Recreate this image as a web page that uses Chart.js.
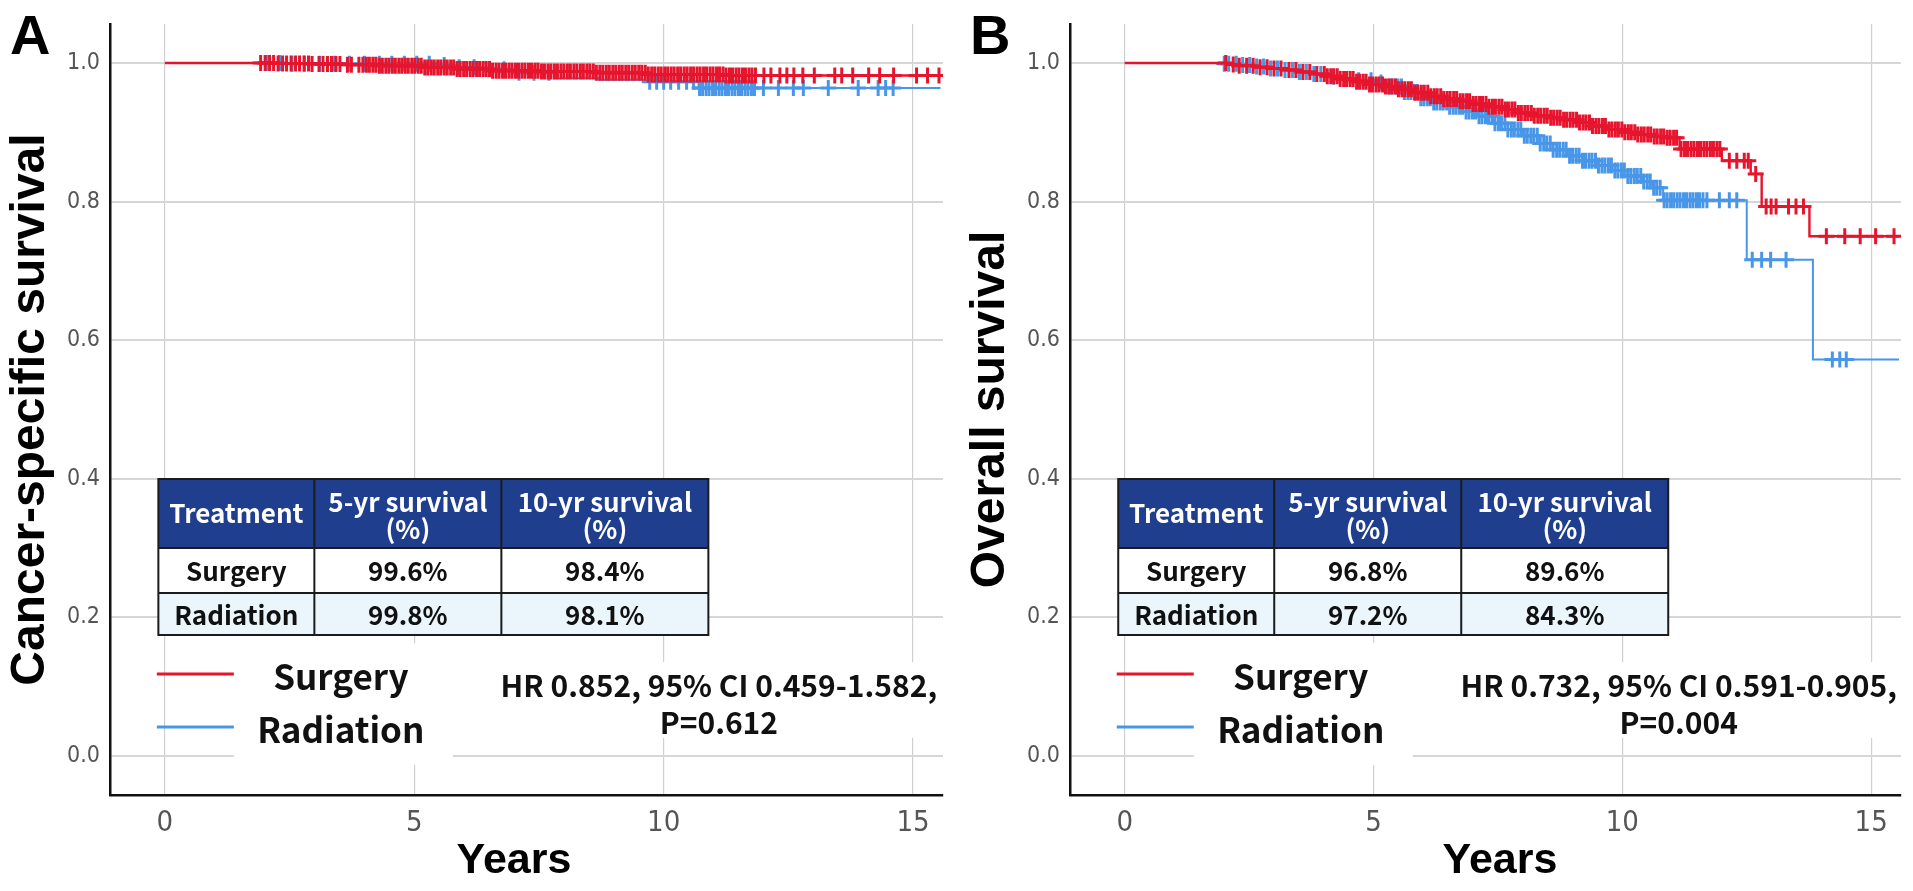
<!DOCTYPE html>
<html><head><meta charset="utf-8">
<script src="https://cdn.jsdelivr.net/npm/chart.js@4.4.1/dist/chart.umd.min.js"></script>
<style>
html,body{margin:0;padding:0;background:#fff;width:1913px;height:891px;overflow:hidden}
#wa{position:absolute;left:0;top:0;width:960px;height:891px}
#wb{position:absolute;left:960px;top:0;width:953px;height:891px}
</style></head><body>
<div id="wa"><canvas id="ca" width="960" height="891"></canvas></div>
<div id="wb"><canvas id="cb" width="953" height="891"></canvas></div>
<script>
// ---------------- DATA ----------------
const seriesNames = ['Surgery', 'Radiation'];
const xTicks = [0, 5, 10, 15];
const xTickLabels = ['0', '5', '10', '15'];
const yTicks = [0, 0.2, 0.4, 0.6, 0.8, 1.0];
const yTickLabels = ['0.0', '0.2', '0.4', '0.6', '0.8', '1.0'];
const tableHeader = ['Treatment', '5-yr survival\n(%)', '10-yr survival\n(%)'];

// Panel A: cancer-specific survival
const csSurgeryTime = [0, 2.2, 2.9, 3.6, 4.3, 5.2, 5.8, 6.55, 7.5, 8.65, 9.65, 11.2, 15.55];
const csSurgerySurv = [1, 0.9993, 0.9985, 0.9975, 0.9962, 0.9935, 0.9915, 0.989, 0.9878, 0.986, 0.9835, 0.982, 0.982];
const csRadiationTime = [0, 2.4, 5.35, 5.9, 6.5, 7.1, 7.8, 8.7, 9.6, 10.7, 15.55];
const csRadiationSurv = [1, 0.999, 0.997, 0.994, 0.991, 0.986, 0.978, 0.976, 0.973, 0.964, 0.964];
const csSurgeryCensor = [1.92,2.01,2.1,2.18,2.27,2.36,2.44,2.53,2.62,2.7,2.79,2.88,2.95,3.09,3.17,3.26,3.34,3.43,3.51,3.66,3.74,3.89,3.97,
 4.04,4.1,4.17,4.23,4.3,4.36,4.43,4.49,4.56,4.62,4.69,4.75,4.82,4.88,4.95,5.01,5.08,5.14,5.21,5.27,5.34,5.4,5.47,5.53,5.6,5.66,5.73,5.79,5.86,5.92,5.99,
 6.05,6.12,6.18,6.25,6.31,6.38,6.44,6.51,6.57,6.64,6.7,6.77,6.83,6.9,6.96,7.03,7.09,7.16,7.22,7.29,7.35,7.42,7.48,7.55,7.61,7.68,7.74,7.81,7.87,7.94,
 8.0,8.07,8.13,8.2,8.26,8.33,8.39,8.46,8.52,8.59,8.65,8.72,8.78,8.85,8.91,8.98,9.04,9.11,9.17,9.24,9.3,9.37,9.43,9.5,9.56,9.63,9.69,9.76,9.82,9.89,9.95,
 10.02,10.08,10.15,10.21,10.28,10.34,10.41,10.47,10.54,10.6,10.67,10.73,10.8,10.86,10.93,10.99,11.06,11.12,11.19,11.25,11.32,11.38,11.45,11.51,11.58,11.64,11.71,11.77,
 11.84,12.01,12.15,12.33,12.47,12.61,12.79,13.02,13.43,13.57,13.79,14.11,14.33,14.61,15.07,15.29,15.52];
const csRadiationCensor = [2.05,2.3,2.55,2.8,3.1,3.4,3.7,4.0,4.3,4.55,4.8,5.05,5.3,5.6,5.9,6.2,6.5,6.8,7.1,7.4,7.7,
 9.72,9.86,10.0,10.14,10.3,10.46,10.6,
 10.72,10.78,10.85,10.91,10.98,11.04,11.11,11.17,11.24,11.3,11.37,11.43,11.5,11.56,11.63,11.69,11.76,11.82,
 12.0,12.3,12.6,12.8,13.3,13.9,14.3,14.45,14.6];
const csTableRows = [['Surgery', '99.6%', '98.4%'], ['Radiation', '99.8%', '98.1%']];
const csStats = ['HR 0.852, 95% CI 0.459-1.582,', 'P=0.612'];

// Panel B: overall survival
const osSurgeryTime = [0,2.05,2.3,2.6,2.9,3.2,3.5,3.8,4.05,4.3,4.6,4.9,5.2,5.5,5.8,6.1,6.4,6.7,7.0,7.3,7.6,7.9,8.2,8.5,8.8,9.1,9.4,9.7,10.0,10.3,10.6,10.9,11.15,12.0,12.58,12.8,13.76,15.56];
const osSurgerySurv = [1,0.998,0.996,0.994,0.992,0.990,0.987,0.984,0.981,0.977,0.973,0.969,0.966,0.962,0.957,0.952,0.948,0.945,0.941,0.937,0.933,0.928,0.924,0.921,0.918,0.914,0.909,0.904,0.900,0.897,0.894,0.892,0.876,0.859,0.840,0.793,0.750,0.750];
const osRadiationTime = [0,2.0,2.3,2.6,2.9,3.2,3.5,3.8,4.1,4.4,4.7,5.0,5.3,5.6,5.9,6.2,6.5,6.8,7.1,7.4,7.7,8.0,8.3,8.6,8.9,9.2,9.5,9.8,10.1,10.4,10.6,10.82,12.5,13.83,15.56];
const osRadiationSurv = [1,0.999,0.997,0.995,0.992,0.990,0.987,0.984,0.980,0.977,0.975,0.972,0.966,0.958,0.949,0.943,0.937,0.930,0.923,0.913,0.904,0.895,0.884,0.875,0.866,0.859,0.852,0.845,0.837,0.829,0.820,0.802,0.716,0.572,0.572];
const osSurgeryCensor = [2.03,2.18,2.3,2.45,2.58,2.72,2.86,3.0,3.14,3.3,3.44,3.58,3.72,3.86,
 4.01,4.07,4.14,4.2,4.27,4.33,4.4,4.46,4.53,4.59,4.66,4.72,4.79,4.85,4.92,4.98,5.05,5.11,5.18,5.24,5.31,5.37,5.44,5.5,5.57,5.63,5.7,5.76,5.83,5.89,5.96,
 6.02,6.09,6.15,6.22,6.28,6.35,6.41,6.48,6.54,6.61,6.67,6.74,6.8,6.87,6.93,7.0,7.06,7.13,7.19,7.26,7.32,7.39,7.45,7.52,7.58,7.65,7.71,7.78,7.84,7.91,7.97,
 8.04,8.1,8.17,8.23,8.3,8.36,8.43,8.49,8.56,8.62,8.69,8.75,8.82,8.88,8.95,9.01,9.08,9.14,9.21,9.27,9.34,9.4,9.47,9.53,9.6,9.66,9.73,9.79,9.86,9.92,9.99,
 10.05,10.12,10.18,10.25,10.31,10.38,10.44,10.51,10.57,10.64,10.7,10.77,10.83,10.9,10.96,11.03,11.09,
 11.18,11.25,11.31,11.38,11.44,11.51,11.57,11.64,11.7,11.77,11.83,11.9,11.96,
 12.15,12.3,12.45,12.53,12.68,12.89,12.99,13.09,13.34,13.49,13.64,14.1,14.47,14.78,15.09,15.46];
const osRadiationCensor = [2.0,2.09,2.24,2.37,2.51,2.65,2.79,2.93,3.07,3.22,3.37,3.51,3.65,3.8,3.94,4.2,4.45,4.7,4.95,5.15,
 5.3,5.36,5.43,5.49,5.56,5.62,5.69,5.75,5.82,5.88,5.95,6.01,6.08,6.14,6.21,6.27,6.34,6.4,6.47,6.53,6.6,6.66,6.73,6.79,6.86,6.92,6.99,
 7.05,7.12,7.18,7.25,7.31,7.38,7.44,7.51,7.57,7.64,7.7,7.77,7.83,7.9,7.96,8.03,8.09,8.16,8.22,8.29,8.35,8.42,8.48,8.55,8.61,8.68,8.74,8.81,8.87,8.94,
 9.0,9.07,9.13,9.2,9.26,9.33,9.39,9.46,9.52,9.59,9.65,9.72,9.78,9.85,9.91,9.98,10.04,10.11,10.17,10.24,10.3,10.37,10.43,10.5,10.56,10.63,10.69,10.76,
 10.84,10.9,10.97,11.03,11.1,11.16,11.23,11.29,11.36,11.42,11.49,11.55,11.62,11.7,11.95,12.15,12.3,12.61,12.8,12.98,13.29,14.22,14.37,14.5];
const osTableRows = [['Surgery', '96.8%', '89.6%'], ['Radiation', '97.2%', '84.3%']];
const osStats = ['HR 0.732, 95% CI 0.591-0.905,', 'P=0.004'];

// ---------------- STYLE / LAYOUT ----------------
const RED = '#e6142d', BLUE = '#4896e8';
const AF = '"Liberation Sans", Arial, Helvetica, sans-serif';
const NF = '"Liberation Sans Narrow", "Arial Narrow", "DejaVu Sans Condensed", "Liberation Sans", sans-serif';
const TF = '"Noto Sans CJK JP", "Noto Sans", sans-serif';
const L = {
  letter: {x: 10, y: 54},
  tableTop: 479, tableDx: -6.5, colW: [156, 187, 207], headH: 69, rowH: [45, 42],
  legLine: {dx0: -8, dx1: 69, y: [674, 727]},
  legText: {dx: 176, y: [677, 730]},
  legBox: {dx0: 69, dx1: 288, y0: 643, y1: 765},
  hr: {dx: 554, y: [686, 723], w: 446, y0: 662, y1: 738},
  xTitleY: 861
};

function kmAt(ts, ss, t) {
  let v = ss[0];
  for (let i = 0; i < ts.length; i++) { if (ts[i] <= t) v = ss[i]; else break; }
  return v;
}
function curve(ts, ss) { return ts.map((t, i) => ({x: t, y: ss[i]})); }
function marks(cs, ts, ss) { return cs.map(t => ({x: t, y: kmAt(ts, ss, t)})); }

const annotate = {
  id: 'annotate',
  beforeDatasetsDraw(chart, args, o) {
    const ctx = chart.ctx;
    const x0 = chart.scales.x.getPixelForValue(0);
    ctx.save();
    // white label boxes
    ctx.fillStyle = '#fff';
    ctx.fillRect(x0 + L.legBox.dx0, L.legBox.y0, L.legBox.dx1 - L.legBox.dx0, L.legBox.y1 - L.legBox.y0);
    const hx = x0 + L.hr.dx;
    ctx.fillRect(hx - L.hr.w / 2, L.hr.y0, L.hr.w, L.hr.y1 - L.hr.y0);
    // legend
    const cols = [RED, BLUE];
    seriesNames.forEach((n, i) => {
      ctx.strokeStyle = cols[i]; ctx.lineWidth = 3;
      ctx.beginPath(); ctx.moveTo(x0 + L.legLine.dx0, L.legLine.y[i]); ctx.lineTo(x0 + L.legLine.dx1, L.legLine.y[i]); ctx.stroke();
      ctx.fillStyle = '#111'; ctx.font = 'bold 35px ' + TF; ctx.textAlign = 'center'; ctx.textBaseline = 'middle';
      ctx.fillText(n, x0 + L.legText.dx, L.legText.y[i]);
    });
    // stats
    ctx.font = 'bold 30px ' + TF; ctx.fillStyle = '#111';
    o.stats.forEach((s, i) => ctx.fillText(s, hx, L.hr.y[i]));
    // table
    const tx = x0 + L.tableDx, ty = L.tableTop;
    const W = L.colW.reduce((a, b) => a + b, 0);
    const H = L.headH + L.rowH[0] + L.rowH[1];
    ctx.fillStyle = '#1f3e8e'; ctx.fillRect(tx, ty, W, L.headH);
    ctx.fillStyle = '#ffffff'; ctx.fillRect(tx, ty + L.headH, W, L.rowH[0]);
    ctx.fillStyle = '#eaf6fc'; ctx.fillRect(tx, ty + L.headH + L.rowH[0], W, L.rowH[1]);
    ctx.font = 'bold 26px ' + TF;
    let cx = tx;
    tableHeader.forEach((h, c) => {
      const mid = cx + L.colW[c] / 2;
      const lines = h.split('\n');
      ctx.fillStyle = '#ffffff';
      if (lines.length === 1) ctx.fillText(lines[0], mid, ty + L.headH / 2);
      else { ctx.fillText(lines[0], mid, ty + 23); ctx.fillText(lines[1], mid, ty + 50); }
      let ry = ty + L.headH;
      o.rows.forEach((r, k) => {
        ctx.fillStyle = '#111';
        ctx.fillText(r[c], mid, ry + L.rowH[k] / 2 + 1);
        ry += L.rowH[k];
      });
      cx += L.colW[c];
    });
    ctx.strokeStyle = '#1b1b1b'; ctx.lineWidth = 2;
    ctx.strokeRect(tx, ty, W, H);
    ctx.beginPath();
    ctx.moveTo(tx, ty + L.headH); ctx.lineTo(tx + W, ty + L.headH);
    ctx.moveTo(tx, ty + L.headH + L.rowH[0]); ctx.lineTo(tx + W, ty + L.headH + L.rowH[0]);
    ctx.moveTo(tx + L.colW[0], ty); ctx.lineTo(tx + L.colW[0], ty + H);
    ctx.moveTo(tx + L.colW[0] + L.colW[1], ty); ctx.lineTo(tx + L.colW[0] + L.colW[1], ty + H);
    ctx.stroke();
    ctx.restore();
  },
  afterDraw(chart, args, o) {
    const ctx = chart.ctx;
    ctx.save();
    ctx.fillStyle = '#000'; ctx.font = 'bold 56px ' + AF; ctx.textAlign = 'left'; ctx.textBaseline = 'alphabetic';
    ctx.fillText(o.letter, L.letter.x, L.letter.y);
    ctx.font = 'bold 43px ' + AF; ctx.textAlign = 'center'; ctx.textBaseline = 'middle';
    ctx.fillText(o.xTitle, o.xTitleX, L.xTitleY);
    ctx.restore();
  }
};

function makeChart(id, letter, yTitle, sT, sS, sC, rT, rS, rC, rows, stats, padRight, xTitleX) {
  return new Chart(document.getElementById(id), {
    type: 'line',
    data: {
      datasets: [
        {label: seriesNames[0] + ' censored', data: marks(sC, sT, sS), showLine: false, pointStyle: 'cross', pointRadius: 8, pointBorderWidth: 3, pointBorderColor: RED, borderColor: RED},
        {label: seriesNames[0], data: curve(sT, sS), stepped: 'before', borderColor: RED, borderWidth: 2.4, pointRadius: 0, fill: false},
        {label: seriesNames[1] + ' censored', data: marks(rC, rT, rS), showLine: false, pointStyle: 'cross', pointRadius: 8, pointBorderWidth: 3, pointBorderColor: BLUE, borderColor: BLUE},
        {label: seriesNames[1], data: curve(rT, rS), stepped: 'before', borderColor: BLUE, borderWidth: 2, pointRadius: 0, fill: false}
      ]
    },
    options: {
      responsive: false, animation: false, devicePixelRatio: 1, events: [],
      layout: {padding: {left: 0, top: 24, right: padRight, bottom: 0}},
      plugins: {legend: {display: false}, tooltip: {enabled: false},
        annotate: {letter: letter, rows: rows, stats: stats, xTitle: 'Years', xTitleX: xTitleX}},
      scales: {
        x: {
          type: 'linear', min: -1.1, max: 15.6,
          afterBuildTicks: s => { s.ticks = xTicks.map(v => ({value: v})); },
          afterFit: s => { s.height = 96; },
          grid: {color: '#cfcfcf', lineWidth: 1.2, drawTicks: false},
          border: {display: true, color: '#111', width: 2.5},
          ticks: {color: '#555', font: {family: NF, size: 29}, padding: 11, maxRotation: 0, autoSkip: false,
            callback: v => xTickLabels[xTicks.indexOf(v)]},
          title: {display: false}
        },
        y: {
          type: 'linear', min: -0.0563, max: 1.0563,
          afterBuildTicks: s => { s.ticks = yTicks.map(v => ({value: v})); },
          afterFit: s => { s.width = 110; },
          grid: {color: '#d6d6d6', lineWidth: 2, drawTicks: false},
          border: {display: true, color: '#111', width: 2.5},
          ticks: {color: '#555', font: {family: NF, size: 23}, padding: 10,
            callback: v => yTickLabels[yTicks.indexOf(v)]},
          title: {display: true, text: yTitle, color: '#000', font: {family: AF, size: 48, weight: 'bold', lineHeight: 1}, padding: {top: 7, bottom: 0}}
        }
      }
    },
    plugins: [annotate]
  });
}

makeChart('ca', 'A', 'Cancer-specific survival', csSurgeryTime, csSurgerySurv, csSurgeryCensor,
  csRadiationTime, csRadiationSurv, csRadiationCensor, csTableRows, csStats, 17, 514);
makeChart('cb', 'B', 'Overall survival', osSurgeryTime, osSurgerySurv, osSurgeryCensor,
  osRadiationTime, osRadiationSurv, osRadiationCensor, osTableRows, osStats, 12, 540);
</script>
</body></html>
